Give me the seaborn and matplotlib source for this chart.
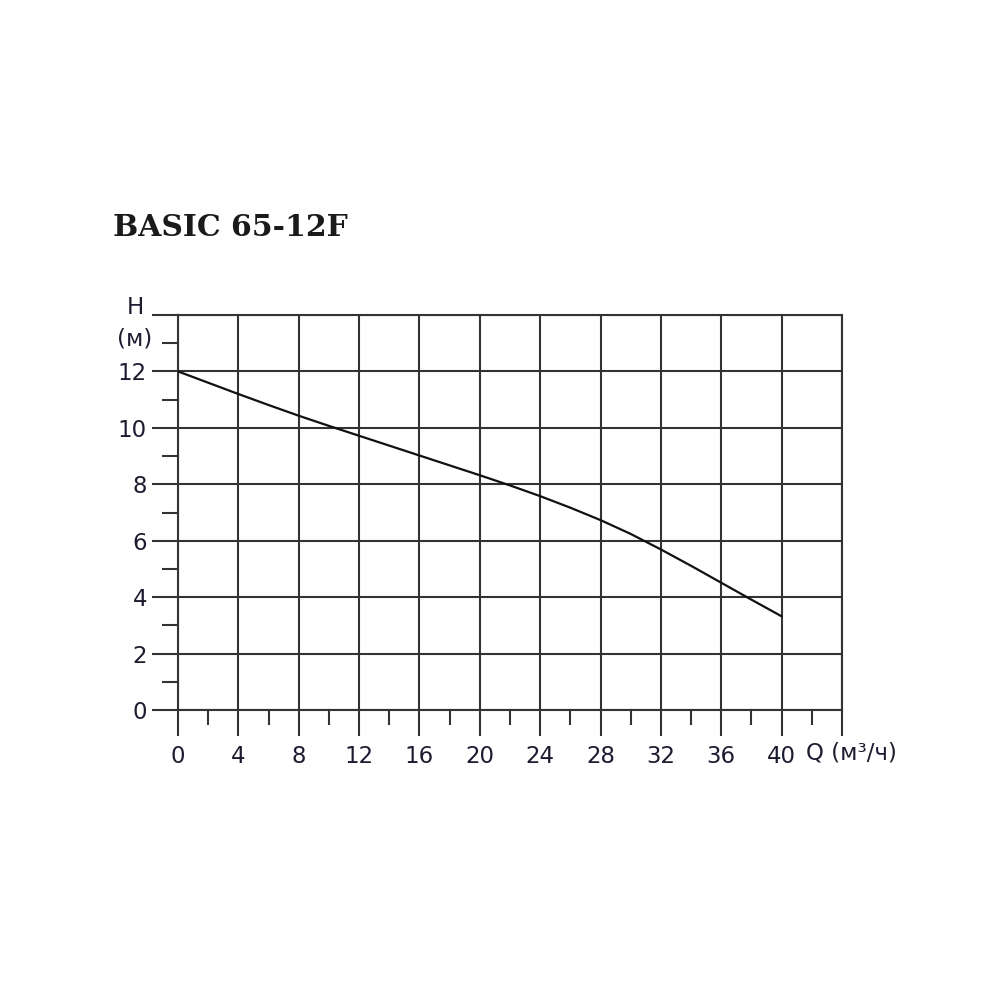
import numpy as np
import pandas as pd
import seaborn as sns
from matplotlib import pyplot as plt

# pump curve
flow = [0, 2, 4, 6, 8, 10, 12, 14, 16, 18, 20, 22, 24, 26, 28, 30, 32, 34, 36, 38, 40]
head = [12.0, 11.6, 11.2, 10.81, 10.43, 10.07, 9.72, 9.37, 9.02, 8.67, 8.32,
        7.96, 7.58, 7.17, 6.73, 6.24, 5.69, 5.11, 4.51, 3.91, 3.32]

x_major = list(range(0, 45, 4))
x_minor = list(range(2, 44, 4))
x_labels = [str(v) for v in range(0, 41, 4)] + ['']
y_major = list(range(0, 15, 2))
y_minor = list(range(1, 14, 2))
y_labels = [str(v) for v in range(0, 13, 2)] + ['']

title = 'BASIC 65-12F'
x_name = 'Q (м³/ч)'
y_name = 'H'
y_unit = '(м)'

line_col = '#333333'
text_col = '#1c1c30'

sns.set_theme(style='white')
plt.rcParams['font.family'] = ['DejaVu Sans']

df = pd.DataFrame({'Q': flow, 'H': head})

fig = plt.figure(figsize=(10, 10), dpi=100)
ax = fig.add_axes([0.178, 0.290, 0.664, 0.395])

sns.lineplot(data=df, x='Q', y='H', ax=ax, color='#111111', linewidth=1.6, zorder=5)

ax.set_xlim(0, 44)
ax.set_ylim(0, 14)
ax.set_xticks(x_major)
ax.set_xticklabels(x_labels)
ax.set_xticks(x_minor, minor=True)
ax.set_yticks(y_major)
ax.set_yticklabels(y_labels)
ax.set_yticks(y_minor, minor=True)
ax.set_xlabel('')
ax.set_ylabel('')

ax.grid(True, which='major', color=line_col, linewidth=1.5)
for s in ax.spines.values():
    s.set_color(line_col)
    s.set_linewidth(1.5)

ax.tick_params(axis='x', which='major', direction='out', length=18.7, width=1.5,
               color=line_col, pad=6.5, labelsize=16.5, labelcolor=text_col, bottom=True)
ax.tick_params(axis='x', which='minor', direction='out', length=11, width=1.5,
               color=line_col, bottom=True)
ax.tick_params(axis='y', which='major', direction='out', length=18.7, width=1.5,
               color=line_col, pad=3.6, labelsize=16.5, labelcolor=text_col, left=True)
ax.tick_params(axis='y', which='minor', direction='out', length=11.5, width=1.5,
               color=line_col, left=True)

fig.text(0.806, 0.247, x_name, fontsize=16.5, color=text_col, ha='left', va='center')
fig.text(0.135, 0.692, y_name, fontsize=16.5, color=text_col, ha='center', va='center')
fig.text(0.135, 0.661, y_unit, fontsize=16.5, color=text_col, ha='center', va='center')
fig.text(0.113, 0.773, title, fontsize=21.5, fontweight='bold', family='DejaVu Serif',
         color='#1a1a1a', ha='left', va='center')

fig.savefig('out.png', dpi=100, facecolor='white')
